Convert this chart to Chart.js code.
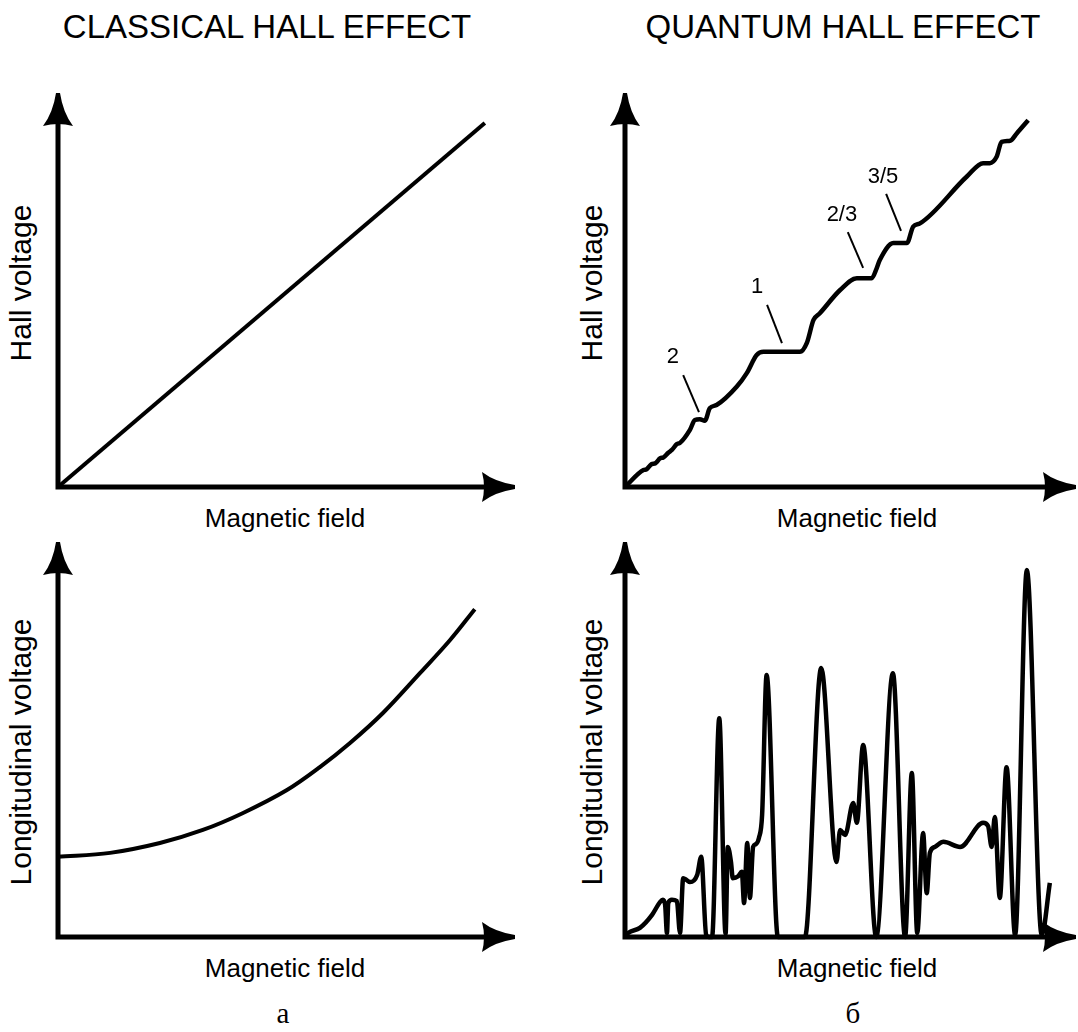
<!DOCTYPE html>
<html>
<head>
<meta charset="utf-8">
<script src="https://cdn.jsdelivr.net/npm/chart.js@4.4.1/dist/chart.umd.min.js"></script>
<style>
  html, body { margin: 0; padding: 0; background: #fff; }
  #page { position: relative; width: 1078px; height: 1032px; overflow: hidden;
          font-family: "Liberation Sans", Arial, sans-serif; color: #000; }
  canvas { position: absolute; }
  .lbl { position: absolute; transform: translate(-50%, -50%); white-space: nowrap; line-height: 1; }
  .title { font-size: 33px; }
  .axis { font-size: 26px; }
  .vert { font-size: 30px; transform: translate(-50%, -50%) rotate(-90deg); }
  .sub { font-family: "Liberation Serif", "Times New Roman", serif; font-size: 29px; }
</style>
</head>
<body>
<div id="page">
  <div class="lbl title" style="left:267px;top:26px">CLASSICAL HALL EFFECT</div>
  <div class="lbl title" style="left:843px;top:26px">QUANTUM HALL EFFECT</div>

  <div class="lbl vert" style="left:21px;top:283px">Hall voltage</div>
  <div class="lbl vert" style="left:592px;top:283px">Hall voltage</div>
  <div class="lbl vert" style="left:21px;top:752px">Longitudinal voltage</div>
  <div class="lbl vert" style="left:592px;top:752px">Longitudinal voltage</div>

  <div class="lbl axis" style="left:285px;top:518px">Magnetic field</div>
  <div class="lbl axis" style="left:857px;top:518px">Magnetic field</div>
  <div class="lbl axis" style="left:285px;top:968px">Magnetic field</div>
  <div class="lbl axis" style="left:857px;top:968px">Magnetic field</div>

  <div class="lbl sub" style="left:283px;top:1013px">а</div>
  <div class="lbl sub" style="left:853px;top:1013px">б</div>

  <canvas id="classicHall"></canvas>
  <canvas id="classicLong"></canvas>
  <canvas id="quantumHall"></canvas>
  <canvas id="quantumLong"></canvas>
</div>

<script>
// all values in arbitrary units, 0..100 = origin..arrow tip
const classicHallB = [0, 93.4];
const classicHallV = [0, 92.4];

const classicLongB = [0, 11.4, 22.3, 31.7, 40.5, 50.1, 57.3, 63.9, 71.1, 79.2, 85.8, 91.2];
const classicLongV = [20.3, 21.3, 23.8, 27.1, 31.4, 37.2, 43.0, 49.1, 56.7, 66.8, 75.2, 83.0];

const quantumHallB = [0, 4.1, 4.8, 5.9, 6.7, 7.8, 8.5, 9.6, 10.4, 11.5, 12.2, 14.4, 15.5, 16.6, 17.7,
  18.8, 20.3, 24.8, 27.0, 29.2, 30.7, 38.8, 40.3, 41.8, 43.2, 47.7, 51.4, 54.7, 55.8, 56.5,
  59.5, 62.5, 63.9, 65.4, 75.8, 79.4, 80.9, 82.4, 83.5, 85.4, 86.9, 89.4];
const quantumHallV = [0, 4.3, 4.5, 5.8, 6.0, 7.3, 7.5, 8.7, 9.4, 10.9, 11.2, 14.5, 17.0, 17.2, 16.8,
  20.0, 20.8, 25.5, 28.9, 33.5, 34.3, 34.3, 36.5, 42.4, 44.1, 50.0, 53.0, 53.0, 55.5, 57.6,
  61.9, 61.9, 66.1, 66.9, 78.8, 82.2, 82.2, 83.8, 87.6, 87.9, 89.8, 93.1];

const quantumLongB = [0, 0.7, 3.3, 6.0, 7.8, 8.4, 8.9, 9.3, 9.6, 10.4, 11.5, 12.2, 12.9, 13.7, 14.4,
  16.0, 16.9, 18.0, 18.6, 19.3, 20.9, 22.3, 22.8, 23.5, 23.9, 25.1, 25.9, 26.4, 27.1, 27.7,
  28.4, 29.0, 29.7, 30.4, 31.4, 33.9, 39.9, 43.5, 46.9, 47.7, 48.8, 50.6, 51.4, 52.8, 55.7,
  59.4, 62.1, 63.6, 64.8, 66.1, 66.9, 67.6, 68.7, 70.6, 74.3, 79.4, 80.5, 81.3, 82.0, 83.1,
  84.6, 86.5, 89.1, 92.4, 94.2];
const quantumLongV = [0, 1.0, 2.3, 5.6, 8.9, 9.4, 8.1, 1.0, 8.6, 9.4, 9.1, 1.0, 14.9, 14.4, 13.9,
  15.7, 20.3, 0.5, 0, 0, 55.4, 0.8, 22.8, 19.0, 14.9, 15.4, 16.5, 8.6, 23.8, 9.9,
  22.8, 23.5, 25.1, 30.9, 66.3, 0, 0, 68.1, 19.0, 27.1, 25.8, 33.9, 28.9, 48.6, 0,
  66.8, 0, 41.5, 1.0, 26.3, 11.1, 21.3, 22.8, 24.1, 22.8, 28.9, 28.1, 22.8, 30.4, 9.9,
  43.0, 0.5, 92.9, 0.5, 13.7];

// plateau marks on the quantum Hall curve
const plateauLabels = ["2", "1", "2/3", "3/5"];
const labelB = [10.6, 29.3, 48.1, 57.2];
const labelV = [33.0, 50.8, 69.0, 78.7];
const leaderFromB = [12.9, 31.5, 49.4, 57.9];
const leaderFromV = [28.4, 46.2, 64.7, 74.4];
const leaderToB = [16.4, 34.8, 52.8, 61.2];
const leaderToV = [19.0, 36.5, 55.6, 65.0];

const PAD = 20;
const zip = (xs, ys) => xs.map((x, i) => ({ x, y: ys[i] }));

const arrowAxes = {
  id: "arrowAxes",
  afterDatasetsDraw(chart) {
    const { ctx, chartArea: a } = chart;
    const L = 33, W = 15;
    ctx.save();
    ctx.strokeStyle = "#000";
    ctx.fillStyle = "#000";
    ctx.lineWidth = 5;
    ctx.lineJoin = "miter";
    ctx.beginPath();
    ctx.moveTo(a.left, a.top + L - 2);
    ctx.lineTo(a.left, a.bottom);
    ctx.lineTo(a.right - L + 2, a.bottom);
    ctx.stroke();

    // up arrow
    ctx.beginPath();
    ctx.moveTo(a.left - 2, a.top);
    ctx.lineTo(a.left + 2, a.top);
    ctx.quadraticCurveTo(a.left + 5, a.top + L * 0.6, a.left + W, a.top + L);
    ctx.quadraticCurveTo(a.left, a.top + L - 4, a.left - W, a.top + L);
    ctx.quadraticCurveTo(a.left - 5, a.top + L * 0.6, a.left - 2, a.top);
    ctx.fill();

    // right arrow
    ctx.beginPath();
    ctx.moveTo(a.right, a.bottom - 2);
    ctx.lineTo(a.right, a.bottom + 2);
    ctx.quadraticCurveTo(a.right - L * 0.6, a.bottom + 5, a.right - L, a.bottom + W);
    ctx.quadraticCurveTo(a.right - L + 4, a.bottom, a.right - L, a.bottom - W);
    ctx.quadraticCurveTo(a.right - L * 0.6, a.bottom - 5, a.right, a.bottom - 2);
    ctx.fill();
    ctx.restore();
  }
};

const plateauText = {
  id: "plateauText",
  afterDatasetsDraw(chart) {
    const { ctx, scales: { x, y } } = chart;
    ctx.save();
    ctx.font = '22px "Liberation Sans", Arial, sans-serif';
    ctx.textAlign = "center";
    ctx.textBaseline = "middle";
    ctx.fillStyle = "#000";
    plateauLabels.forEach((t, i) => {
      ctx.fillText(t, x.getPixelForValue(labelB[i]), y.getPixelForValue(labelV[i]));
    });
    ctx.restore();
  }
};

function curve(xs, ys, smooth, width) {
  return {
    data: zip(xs, ys),
    borderColor: "#000",
    borderWidth: width || 4,
    pointRadius: 0,
    fill: false,
    clip: false,
    tension: smooth ? 0.35 : 0,
    cubicInterpolationMode: smooth === "mono" ? "monotone" : "default"
  };
}

function makePanel(id, x0, y0, xTip, yTip, datasets, extra) {
  const cv = document.getElementById(id);
  const w = xTip - x0 + 2 * PAD, h = y0 - yTip + 2 * PAD;
  cv.width = w; cv.height = h;
  cv.style.width = w + "px"; cv.style.height = h + "px";
  cv.style.left = (x0 - PAD) + "px"; cv.style.top = (yTip - PAD) + "px";
  new Chart(cv.getContext("2d"), {
    type: "line",
    data: { datasets },
    options: {
      responsive: false,
      animation: false,
      layout: { padding: PAD },
      scales: {
        x: { type: "linear", min: 0, max: 100, display: false },
        y: { type: "linear", min: 0, max: 100, display: false }
      },
      plugins: { legend: { display: false }, tooltip: { enabled: false } }
    },
    plugins: [arrowAxes].concat(extra || [])
  });
}

makePanel("classicHall", 58, 487, 515, 93, [curve(classicHallB, classicHallV, false)]);
makePanel("classicLong", 58, 937, 515, 542, [curve(classicLongB, classicLongV, true)]);

const leaders = plateauLabels.map((_, i) => ({
  data: [{ x: leaderFromB[i], y: leaderFromV[i] }, { x: leaderToB[i], y: leaderToV[i] }],
  borderColor: "#000",
  borderWidth: 2,
  pointRadius: 0,
  tension: 0
}));
makePanel("quantumHall", 625, 487, 1076, 93,
  [curve(quantumHallB, quantumHallV, "mono", 4.5)].concat(leaders), [plateauText]);
makePanel("quantumLong", 625, 937, 1076, 542, [curve(quantumLongB, quantumLongV, "mono", 4.5)]);
</script>
</body>
</html>
